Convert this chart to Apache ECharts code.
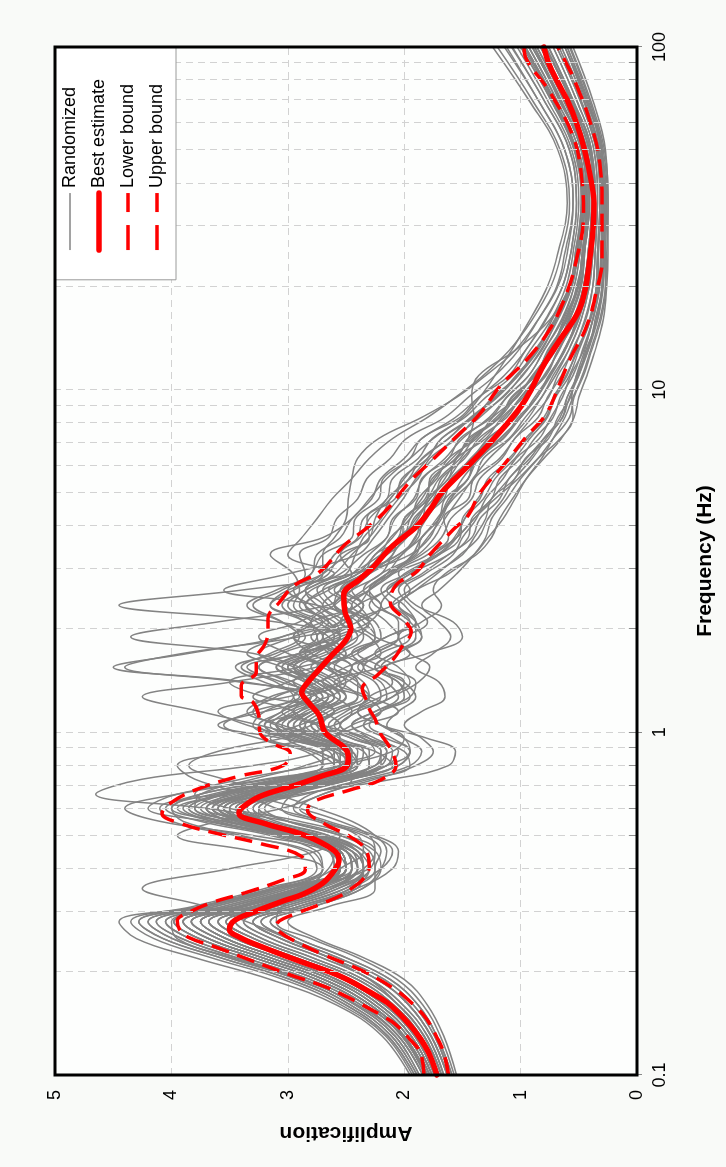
<!DOCTYPE html>
<html><head><meta charset="utf-8">
<script src="https://cdn.jsdelivr.net/npm/echarts@6/dist/echarts.min.js"></script>
<style>
html,body{margin:0;padding:0;width:726px;height:1167px;overflow:hidden;background:#f9faf8;}
#chart{position:absolute;left:0;top:0;width:1167px;height:726px;transform-origin:0 0;transform:translate(0,1167px) rotate(-90deg);}
</style></head><body><div id="chart"></div>
<script>
// Frequency grid (Hz) shared by the randomized curves
const freqGrid = [0.1,0.13,0.16,0.19,0.22,0.25,0.28,0.31,0.35,0.4,0.45,0.5,0.55,0.6,0.66,0.73,0.8,0.88,0.96,1.05,1.15,1.27,1.4,1.55,1.7,1.9,2.1,2.35,2.6,2.9,3.3,3.7,4.2,4.8,5.5,6.3,7.2,8.3,9.5,11,13,16,20,25,35,50,70,100];

const rand01 = [1.95,2.19,2.58,3.15,3.80,4.30,4.45,3.75,3.10, 2.55,2.65,3.30,4.10,4.40,3.95,3.15,2.60,2.80,3.20,2.90,2.60,3.20,3.50,2.90,2.55,2.95,2.80,2.45,2.65,2.40, 2.25,2.10,1.98,1.85,1.74,1.59,1.41,1.21,1.05,0.89,0.75,0.62,0.51,0.47,0.43,0.48,0.66,0.90];
const rand02 = [1.57,1.69,1.84,2.06,2.40,2.80,3.10,3.05,2.75, 2.55,2.35,2.40,2.70,3.10,3.30,3.05,2.55,2.10,2.00,2.20,2.40,2.30,2.10,2.20,2.40,2.15,1.90,2.00,2.15,1.95, 1.75,1.55,1.40,1.25,1.10,0.95,0.80,0.66,0.60,0.51,0.43,0.35,0.30,0.29,0.29,0.31,0.44,0.62];
const rand03 = [1.78,1.97,2.25,2.63,3.15,3.60,3.83,3.30,2.80, 2.50,2.55,2.85,3.40,3.65,3.35,2.85,2.50,2.45,2.70,2.90,2.75,2.50,2.70,3.00,2.70,2.40,2.30,2.60,2.45,2.20, 2.10,2.00,1.88,1.78,1.62,1.50,1.33,1.14,1.00,0.85,0.71,0.58,0.48,0.45,0.41,0.46,0.63,0.86];
const rand04 = [1.68,1.83,2.05,2.30,2.65,3.00,3.35,3.70,4.25, 3.50,2.75,2.55,2.90,3.50,3.80,3.40,2.75,2.25,2.35,2.70,2.95,2.80,2.50,2.35,2.55,2.70,2.40,2.20,2.30,2.15, 2.02,1.85,1.72,1.60,1.50,1.35,1.17,1.00,0.88,0.75,0.63,0.51,0.43,0.40,0.37,0.41,0.57,0.79];
const rand05 = [1.80,2.00,2.29,2.69,3.22,3.68,3.90,3.43,2.88, 2.30,2.25,2.50,3.00,3.70,4.65,4.25,3.30,2.70,2.55,2.75,3.05,2.85,2.55,2.65,2.90,2.55,2.30,2.40,2.60,2.35, 2.20,2.05,2.00,1.82,1.76,1.56,1.43,1.19,1.07,0.88,0.76,0.61,0.51,0.47,0.43,0.48,0.66,0.90];
const rand06 = [1.66,1.80,2.01,2.29,2.71,3.14,3.38,2.98,2.51, 2.35,2.45,2.90,3.45,3.50,2.90,2.10,1.62,1.56,1.80,2.20,2.40,2.20,1.95,2.05,2.25,2.00,1.80,1.95,2.05,1.85, 1.62,1.42,1.35,1.18,1.10,0.92,0.80,0.64,0.60,0.50,0.44,0.34,0.30,0.28,0.28,0.30,0.43,0.60];
const rand07 = [1.84,2.05,2.37,2.81,3.37,3.84,4.05,3.56,2.99, 2.55,2.55,2.80,3.30,3.70,3.50,2.95,2.55,2.55,2.85,3.05,2.90,2.70,3.05,3.35,2.90,2.55,3.10,4.45,3.40,2.45, 2.15,1.98,1.92,1.75,1.68,1.48,1.36,1.12,1.00,0.84,0.72,0.58,0.48,0.45,0.41,0.46,0.63,0.86];
const rand08 = [1.91,2.14,2.50,2.98,3.58,4.07,4.28,3.76,3.14, 2.45,2.50,2.90,3.55,4.00,3.75,3.05,2.60,2.65,3.00,3.20,2.90,2.80,3.40,4.40,3.90,2.90,2.45,2.65,2.75,2.45, 2.30,2.15,2.08,1.92,1.84,1.65,1.50,1.27,1.12,0.93,0.80,0.65,0.54,0.49,0.45,0.50,0.69,0.93];
const rand09 = [1.63,1.77,1.96,2.23,2.64,3.06,3.30,2.91,2.46, 2.30,2.35,2.70,3.20,3.40,3.10,2.55,2.15,2.05,2.25,2.45,2.25,1.95,1.90,2.15,1.80,1.50,1.58,1.90,2.00,1.82, 1.58,1.50,1.38,1.30,1.15,1.04,0.84,0.74,0.64,0.57,0.46,0.38,0.32,0.31,0.30,0.33,0.46,0.65];
const rand10 = [1.76,1.94,2.21,2.58,3.08,3.53,3.75,3.30,2.78, 2.45,2.50,2.80,3.30,3.55,3.25,2.75,2.40,2.45,2.80,3.25,3.75,4.25,3.50,2.75,2.50,2.70,2.55,2.35,2.50,2.30, 2.02,1.91,1.81,1.69,1.57,1.43,1.25,1.07,0.94,0.80,0.67,0.55,0.46,0.42,0.39,0.43,0.60,0.83];
const rand11 = [1.74,1.91,2.17,2.52,3.00,3.45,3.68,3.24,2.72, 2.60,2.65,3.00,3.50,3.70,3.30,2.75,2.40,2.35,2.55,2.75,2.60,2.40,2.40,2.65,2.85,2.60,2.30,2.20,2.35,2.20, 1.90,1.85,1.70,1.65,1.45,1.40,1.15,1.02,0.86,0.76,0.62,0.52,0.43,0.40,0.37,0.41,0.57,0.79];
const rand12 = [1.87,2.08,2.42,2.86,3.44,3.91,4.13,3.63,3.04, 2.50,2.55,2.95,3.45,3.80,3.55,3.00,2.60,2.60,2.90,3.10,2.80,2.55,2.65,2.90,3.30,4.35,3.60,2.65,2.50,2.35, 2.25,2.02,2.00,1.80,1.78,1.55,1.45,1.18,1.08,0.87,0.77,0.60,0.52,0.46,0.44,0.47,0.67,0.88];
const rand13 = [1.55,1.66,1.80,2.00,2.35,2.75,3.00,2.65,2.25, 2.25,2.20,2.35,2.75,3.05,2.95,2.55,2.15,1.95,2.00,2.20,2.30,2.10,1.88,1.78,1.95,2.05,1.85,1.68,1.75,1.65, 1.38,1.25,1.18,1.07,0.95,0.80,0.65,0.54,0.50,0.43,0.36,0.29,0.26,0.25,0.25,0.27,0.38,0.55];
const rand14 = [1.80,2.00,2.29,2.69,3.22,3.68,3.90,3.43,2.88, 2.40,2.50,2.90,3.35,3.50,3.20,2.70,2.40,2.50,2.90,3.35,3.60,3.00,2.55,2.45,2.65,2.75,2.50,2.35,2.55,2.35, 2.05,1.88,1.84,1.66,1.60,1.40,1.28,1.04,0.96,0.78,0.68,0.53,0.46,0.42,0.39,0.43,0.60,0.83];
const rand15 = [1.82,2.02,2.33,2.75,3.29,3.76,3.98,3.50,2.93, 2.50,2.60,3.00,3.50,3.70,3.40,2.85,2.50,2.55,2.85,3.00,2.80,2.65,2.85,3.05,2.80,2.55,2.70,2.95,2.90,2.95, 3.15,2.70,2.45,2.30,2.15,1.95,1.75,1.50,1.35,1.22,1.08,0.92,0.77,0.68,0.60,0.68,0.93,1.24];
const rand16 = [1.76,1.94,2.21,2.58,3.08,3.53,3.75,3.30,2.78, 2.45,2.50,2.85,3.35,3.60,3.30,2.80,2.45,2.45,2.70,2.95,2.80,2.60,2.75,2.90,2.65,2.45,2.55,2.75,2.85,2.70, 2.70,2.60,2.50,2.48,2.45,2.40,2.22,1.85,1.55,1.30,1.05,0.85,0.68,0.60,0.55,0.62,0.85,1.12];
const rand17 = [1.72,1.88,2.13,2.46,2.93,3.37,3.60,3.17,2.67, 2.40,2.45,2.80,3.25,3.45,3.15,2.65,2.30,2.30,2.60,2.80,2.65,2.40,2.55,2.75,2.55,2.35,2.40,2.60,2.55,2.35, 2.15,2.02,1.90,1.78,1.65,1.55,1.45,1.40,1.42,1.36,1.05,0.75,0.58,0.50,0.45,0.52,0.72,0.96];
const rand18 = [1.68,1.83,2.05,2.35,2.79,3.22,3.45,3.04,2.57, 2.35,2.40,2.75,3.25,3.45,3.10,2.55,2.20,2.15,2.40,2.60,2.45,2.20,2.25,2.45,2.25,2.05,2.05,2.20,2.10,1.90, 1.75,1.55,1.40,1.22,1.02,0.85,0.66,0.55,0.56,0.52,0.45,0.38,0.32,0.30,0.29,0.32,0.45,0.62];
const rand19 = [1.61,1.74,1.92,2.17,2.57,2.98,3.23,2.85,2.41, 2.35,2.40,2.72,3.20,3.35,3.00,2.45,2.05,1.95,2.10,2.30,2.20,2.00,2.05,2.25,2.10,1.90,1.90,2.05,1.90,1.62, 1.40,1.28,1.15,1.05,0.95,0.82,0.72,0.62,0.55,0.47,0.40,0.32,0.27,0.26,0.25,0.28,0.40,0.57];
const rand20 = [1.89,2.11,2.46,2.92,3.51,3.99,4.20,3.69,3.09, 2.55,2.60,3.05,3.70,4.20,3.95,3.20,2.70,2.70,3.00,3.30,3.20,2.90,3.35,4.50,3.85,3.05,2.80,3.15,3.00,2.60, 3.00,2.88,2.75,2.62,2.45,2.30,2.10,1.80,1.56,1.32,1.10,0.90,0.74,0.65,0.58,0.66,0.90,1.20];
const rand21 = [1.74,1.91,2.17,2.52,3.00,3.45,3.68,3.24,2.72, 2.55,2.65,3.10,3.65,3.90,3.55,2.95,2.55,2.45,2.65,2.80,2.55,2.30,2.35,2.55,2.80,2.95,2.70,2.40,2.30,2.15, 1.88,1.74,1.65,1.53,1.41,1.27,1.09,0.93,0.82,0.70,0.59,0.48,0.41,0.38,0.36,0.39,0.55,0.76];
const rand22 = [1.82,2.02,2.33,2.75,3.29,3.76,3.98,3.50,2.93, 2.40,2.45,2.75,3.20,3.40,3.15,2.70,2.45,2.55,2.95,3.20,3.05,2.80,3.00,3.25,2.90,2.50,2.45,2.75,3.55,3.00, 2.40,2.26,2.14,2.01,1.90,1.75,1.57,1.35,1.16,0.98,0.83,0.68,0.56,0.51,0.46,0.52,0.71,0.96];
const rand23 = [1.70,1.86,2.09,2.40,2.86,3.29,3.53,3.11,2.62, 2.40,2.50,2.85,3.35,3.55,3.20,2.65,2.25,2.15,2.30,2.45,2.25,2.05,2.15,2.35,2.20,1.95,2.00,2.25,2.30,2.10, 1.72,1.57,1.48,1.37,1.25,1.10,0.94,0.80,0.71,0.61,0.51,0.41,0.35,0.34,0.32,0.35,0.49,0.69];
const rand24 = [1.84,2.05,2.37,2.81,3.37,3.84,4.05,3.56,2.99, 2.50,2.55,2.90,3.40,3.65,3.40,2.90,2.55,2.60,2.90,3.10,2.90,2.65,2.80,3.10,2.85,2.55,2.60,2.90,2.80,2.50, 2.42,2.35,2.20,2.12,1.96,1.85,1.62,1.43,1.21,1.04,0.86,0.73,0.58,0.53,0.48,0.54,0.74,1.00];
const rand25 = [1.59,1.72,1.88,2.12,2.50,2.91,3.15,2.78,2.36, 2.20,2.15,2.25,2.45,2.75,3.10,3.55,3.85,3.60,3.05,2.60,2.45,2.60,2.85,2.70,2.40,2.25,2.35,2.50,2.30,2.10, 1.93,1.85,1.70,1.62,1.45,1.38,1.18,1.00,0.86,0.75,0.63,0.51,0.43,0.40,0.37,0.41,0.57,0.79];
const rand26 = [1.93,2.16,2.54,3.04,3.66,4.15,4.35,3.82,3.20, 2.70,2.80,3.45,4.00,4.10,3.60,2.95,2.50,2.45,2.75,3.10,3.30,3.10,2.85,3.05,3.35,3.05,2.70,2.85,2.95,2.70, 2.50,2.30,2.25,2.15,1.95,1.80,1.68,1.42,1.22,1.03,0.87,0.71,0.58,0.53,0.48,0.54,0.74,1.00];
const rand27 = [1.70,1.86,2.09,2.40,2.86,3.29,3.53,3.11,2.62, 2.35,2.40,2.65,3.10,3.30,3.05,2.60,2.30,2.35,2.60,2.45,2.20,2.35,2.70,2.50,2.20,2.30,2.55,2.40,2.15,2.00, 1.70,1.52,1.50,1.35,1.28,1.08,0.96,0.78,0.72,0.60,0.52,0.40,0.35,0.34,0.32,0.35,0.49,0.69];
const rand28 = [1.78,1.97,2.25,2.63,3.15,3.60,3.83,3.37,2.83, 2.70,3.30,3.95,3.60,3.05,2.70,2.45,2.50,2.75,3.00,2.80,2.60,2.75,2.95,2.70,2.50,2.65,2.80,2.60,2.45,2.30, 2.10,2.05,1.85,1.80,1.62,1.55,1.30,1.16,0.98,0.86,0.70,0.59,0.49,0.45,0.41,0.46,0.63,0.86];
const rand29 = [1.66,1.80,2.01,2.29,2.71,3.14,3.38,2.98,2.51, 2.20,2.10,2.30,2.70,2.95,2.80,2.35,1.95,1.85,2.00,2.15,2.05,1.90,2.00,2.20,2.05,1.85,1.95,2.10,1.95,1.75, 1.50,1.40,1.30,1.25,1.05,0.96,0.76,0.68,0.57,0.52,0.42,0.36,0.30,0.29,0.28,0.31,0.43,0.62];
const rand30 = [1.87,2.08,2.42,2.86,3.44,3.91,4.13,3.63,3.04, 2.60,2.55,2.85,3.40,3.80,3.75,3.30,2.85,2.60,2.70,3.05,3.35,3.15,2.80,2.95,3.25,2.95,2.65,2.80,3.00,2.80, 2.70,2.45,2.42,2.22,2.18,1.95,1.85,1.52,1.36,1.10,0.96,0.78,0.64,0.57,0.52,0.58,0.80,1.07];
const rand31 = [1.72,1.88,2.13,2.46,2.93,3.37,3.60,3.17,2.67, 2.35,2.25,2.30,2.55,2.90,3.35,3.80,3.95,3.40,2.80,2.55,2.70,2.95,2.75,2.45,2.60,2.80,2.55,2.35,2.45,2.30, 2.20,2.12,1.95,1.88,1.72,1.62,1.38,1.24,1.03,0.90,0.74,0.63,0.51,0.47,0.43,0.48,0.66,0.90];
const rand32 = [1.80,2.00,2.29,2.69,3.22,3.68,3.90,3.43,2.88, 2.55,2.60,2.95,3.55,3.85,3.60,3.00,2.55,2.45,2.65,2.90,2.75,2.55,2.70,2.95,2.75,2.60,2.75,3.00,2.85,2.55, 2.35,2.15,2.10,1.90,1.85,1.62,1.52,1.25,1.12,0.93,0.80,0.64,0.54,0.49,0.45,0.50,0.69,0.93];
const rand33 = [1.61,1.74,1.92,2.17,2.57,2.98,3.23,2.85,2.41, 2.10,2.05,2.25,2.65,2.90,2.70,2.25,1.90,1.75,1.85,2.00,1.85,1.65,1.70,1.90,1.75,1.60,1.70,1.85,1.70,1.55, 1.40,1.30,1.25,1.12,1.00,0.85,0.72,0.58,0.54,0.46,0.39,0.31,0.27,0.27,0.26,0.29,0.41,0.58];
const rand34 = [1.91,2.14,2.50,2.98,3.58,4.07,4.28,3.76,3.14, 2.75,2.85,3.40,3.90,4.00,3.65,3.05,2.70,2.85,3.25,3.55,3.30,2.95,3.10,3.40,3.15,2.90,3.05,3.30,3.05,2.85, 2.90,2.65,2.58,2.40,2.32,2.12,1.98,1.65,1.45,1.22,1.02,0.85,0.69,0.62,0.55,0.62,0.85,1.14];
const rand35 = [1.76,1.94,2.21,2.58,3.08,3.53,3.75,3.30,2.78, 2.50,2.55,2.85,3.35,3.60,3.35,2.80,2.45,2.40,2.65,2.85,2.70,2.50,2.60,2.80,2.60,2.40,2.50,2.70,2.55,2.35, 1.95,1.78,1.70,1.58,1.40,1.32,1.10,0.96,0.82,0.72,0.59,0.48,0.41,0.38,0.36,0.39,0.55,0.76];
const rand36 = [1.68,1.83,2.05,2.35,2.79,3.22,3.45,3.04,2.57, 2.30,2.35,2.65,3.15,3.40,3.15,2.60,2.25,2.20,2.45,2.70,2.60,2.35,2.40,2.60,2.45,2.25,2.30,2.50,2.35,2.15, 1.85,1.68,1.60,1.42,1.35,1.16,1.05,0.85,0.77,0.65,0.56,0.44,0.38,0.36,0.34,0.37,0.52,0.72];
const rand37 = [1.82,2.02,2.33,2.75,3.29,3.76,3.98,3.50,2.93, 2.60,2.65,3.05,3.60,3.85,3.55,2.95,2.55,2.55,2.85,3.10,2.95,2.70,2.85,3.10,2.90,2.70,2.85,3.05,2.85,2.60, 2.45,2.30,2.18,2.05,1.88,1.78,1.55,1.38,1.15,0.99,0.82,0.69,0.56,0.51,0.46,0.52,0.71,0.96];
const rand38 = [1.63,1.77,1.96,2.23,2.64,3.06,3.30,2.91,2.46, 2.25,2.30,2.55,3.00,3.25,3.00,2.50,2.15,2.10,2.35,2.55,2.40,2.15,2.20,2.40,2.25,2.05,2.15,2.30,2.15,1.95, 1.62,1.45,1.42,1.25,1.18,1.00,0.88,0.72,0.66,0.55,0.47,0.38,0.33,0.31,0.30,0.33,0.46,0.65];
const rand39 = [1.74,1.91,2.17,2.52,3.00,3.45,3.68,3.24,2.72, 2.45,2.50,2.80,3.30,3.55,3.30,2.75,2.40,2.45,2.75,3.00,2.85,2.60,2.75,3.00,2.80,2.55,2.65,2.85,2.65,2.40, 2.05,1.90,1.85,1.68,1.60,1.42,1.28,1.05,0.96,0.79,0.68,0.54,0.46,0.42,0.39,0.43,0.60,0.83];
const rand40 = [1.78,1.97,2.25,2.63,3.15,3.60,3.83,3.37,2.83, 2.50,2.55,2.90,3.40,3.65,3.40,2.85,2.50,2.50,2.75,2.95,2.80,2.60,2.75,2.95,2.75,2.55,2.65,2.85,2.70,2.45, 2.55,2.40,2.35,2.15,2.10,1.88,1.76,1.48,1.30,1.07,0.92,0.74,0.61,0.55,0.50,0.56,0.77,1.03];
const rand41 = [1.72,1.88,2.13,2.46,2.93,3.37,3.60,3.17,2.67, 2.30,2.40,2.75,3.20,3.30,2.95,2.45,2.10,2.25,2.60,2.35,2.05,2.30,2.60,2.20,1.95,2.25,2.40,2.10,1.95,2.05, 1.80,1.62,1.66,1.45,1.40,1.18,1.05,0.90,0.76,0.68,0.55,0.45,0.38,0.36,0.34,0.37,0.52,0.72];
const rand42 = [1.80,2.00,2.29,2.69,3.22,3.68,3.90,3.43,2.88, 2.65,2.60,3.00,3.65,3.95,3.50,2.85,2.55,2.75,3.15,2.85,2.95,3.30,3.00,2.70,3.00,3.25,2.90,2.70,2.85,2.65, 2.55,2.30,2.32,2.08,2.02,1.80,1.68,1.40,1.24,1.02,0.88,0.70,0.58,0.52,0.47,0.53,0.72,0.97];
const rand43 = [1.63,1.77,1.96,2.23,2.64,3.06,3.30,2.91,2.46, 2.35,2.45,2.80,3.25,3.25,2.85,2.30,1.95,2.00,2.30,2.55,2.40,2.10,2.00,2.30,2.45,2.15,1.95,2.10,2.20,1.98, 1.70,1.55,1.48,1.32,1.22,1.05,0.92,0.77,0.70,0.58,0.50,0.40,0.34,0.33,0.31,0.34,0.48,0.67];
const rand44 = [1.76,1.94,2.21,2.58,3.08,3.53,3.75,3.30,2.78, 2.55,2.60,2.90,3.40,3.60,3.30,2.75,2.45,2.60,3.05,3.60,3.20,2.65,2.50,2.70,2.90,2.65,2.45,2.60,2.70,2.45, 2.20,2.00,1.95,1.80,1.70,1.52,1.40,1.18,1.04,0.88,0.74,0.61,0.50,0.46,0.42,0.47,0.65,0.88];
const rand45 = [1.70,1.86,2.09,2.40,2.86,3.29,3.53,3.11,2.62, 2.45,2.50,2.80,3.25,3.40,3.05,2.50,2.20,2.20,2.45,2.65,2.50,2.30,2.45,2.65,2.45,2.20,2.25,2.45,2.30,2.12, 1.92,1.80,1.68,1.60,1.45,1.36,1.15,1.00,0.86,0.74,0.62,0.50,0.42,0.39,0.37,0.40,0.56,0.78];
const rand46 = [1.84,2.05,2.40,2.88,3.48,3.95,4.00,3.40,2.85, 2.50,2.55,2.95,3.50,3.75,3.45,2.85,2.45,2.50,2.85,3.15,3.00,2.75,2.95,3.25,3.05,2.75,2.85,3.15,2.95,2.70, 2.60,2.38,2.30,2.12,2.00,1.84,1.62,1.42,1.20,1.02,0.85,0.70,0.57,0.52,0.47,0.53,0.73,0.98];
const rand47 = [1.59,1.72,1.88,2.12,2.50,2.91,3.15,2.78,2.36, 2.20,2.25,2.55,3.00,3.20,2.95,2.45,2.05,1.95,2.15,2.35,2.20,1.95,2.05,2.25,2.10,1.85,1.90,2.05,1.90,1.72, 1.52,1.36,1.28,1.15,1.05,0.90,0.78,0.64,0.58,0.50,0.42,0.34,0.29,0.28,0.27,0.30,0.42,0.60];
const rand48 = [1.89,2.11,2.46,2.92,3.51,3.99,4.20,3.69,3.09, 2.70,2.75,3.15,3.75,4.05,3.75,3.10,2.70,2.70,3.00,3.25,3.05,2.85,3.20,3.45,3.10,2.85,3.05,3.35,3.10,2.80, 2.75,2.55,2.45,2.28,2.20,2.00,1.85,1.56,1.36,1.14,0.96,0.79,0.64,0.57,0.52,0.58,0.80,1.08];
const randomizedCurves = [rand01,rand02,rand03,rand04,rand05,rand06,rand07,rand08,rand09,rand10,rand11,rand12,rand13,rand14,rand15,rand16,rand17,rand18,rand19,rand20,rand21,rand22,rand23,rand24,rand25,rand26,rand27,rand28,rand29,rand30,rand31,rand32,rand33,rand34,rand35,rand36,rand37,rand38,rand39,rand40,rand41,rand42,rand43,rand44,rand45,rand46,rand47,rand48];

// [frequency (Hz), amplification]
const bestEstimate = [[0.1,1.72],[0.116,1.79],[0.129,1.87],[0.141,1.96],[0.152,2.05],[0.163,2.15],[0.175,2.30],[0.19,2.49],[0.2,2.64],[0.215,2.90],[0.235,3.20],[0.252,3.41],[0.266,3.50],[0.282,3.46],[0.298,3.30],[0.322,3.04],[0.337,2.87],[0.363,2.70],[0.4,2.59],[0.425,2.56],[0.454,2.61],[0.5,2.85],[0.542,3.20],[0.58,3.42],[0.6,3.40],[0.65,3.24],[0.7,2.94],[0.743,2.72],[0.8,2.49],[0.85,2.48],[0.9,2.51],[1.0,2.68],[1.12,2.73],[1.22,2.82],[1.31,2.88],[1.37,2.85],[1.5,2.75],[1.68,2.62],[1.84,2.51],[2.01,2.46],[2.25,2.51],[2.52,2.52],[2.8,2.38],[3.0,2.28],[3.5,2.10],[4.0,1.89],[4.5,1.77],[5.0,1.68],[6.0,1.45],[7.0,1.26],[8.0,1.11],[9.0,0.99],[10,0.91],[12,0.79],[14,0.66],[17,0.50],[20,0.44],[25,0.40],[30,0.375],[35,0.37],[40,0.39],[50,0.45],[60,0.52],[70,0.60],[80,0.69],[90,0.76],[100,0.80]];
const lowerBound = [[0.1,1.62],[0.116,1.66],[0.129,1.72],[0.146,1.81],[0.159,1.91],[0.175,2.05],[0.2,2.34],[0.225,2.70],[0.245,2.93],[0.26,3.06],[0.272,3.10],[0.282,3.07],[0.295,2.94],[0.315,2.72],[0.337,2.52],[0.347,2.47],[0.371,2.36],[0.406,2.30],[0.454,2.33],[0.495,2.46],[0.542,2.69],[0.593,2.83],[0.628,2.78],[0.68,2.46],[0.727,2.20],[0.8,2.07],[0.9,2.12],[1.0,2.21],[1.094,2.25],[1.17,2.30],[1.25,2.33],[1.34,2.36],[1.47,2.23],[1.64,2.09],[1.80,2.01],[1.96,1.94],[2.15,2.01],[2.40,2.12],[2.69,2.07],[2.95,1.89],[3.3,1.78],[3.9,1.58],[4.3,1.45],[5.0,1.35],[6.0,1.15],[7.3,0.95],[8.5,0.78],[10.5,0.66],[12.2,0.58],[15.4,0.43],[19.3,0.35],[24,0.30],[33,0.30],[46,0.32],[60,0.40],[79,0.53],[90,0.61],[100,0.68]];
const upperBound = [[0.1,1.83],[0.116,1.86],[0.127,1.95],[0.141,2.08],[0.149,2.19],[0.161,2.37],[0.169,2.49],[0.181,2.68],[0.196,2.98],[0.215,3.30],[0.235,3.60],[0.252,3.85],[0.266,3.93],[0.282,3.95],[0.298,3.85],[0.318,3.66],[0.34,3.37],[0.371,3.04],[0.398,2.85],[0.434,2.88],[0.474,3.24],[0.505,3.59],[0.542,3.92],[0.58,4.08],[0.621,4.01],[0.68,3.79],[0.743,3.43],[0.8,3.04],[0.87,2.98],[0.931,3.14],[1.0,3.24],[1.12,3.25],[1.224,3.30],[1.28,3.40],[1.37,3.40],[1.50,3.27],[1.64,3.27],[1.80,3.20],[1.96,3.17],[2.15,3.17],[2.40,3.07],[2.69,2.94],[2.95,2.72],[3.5,2.52],[3.95,2.32],[4.5,2.14],[5.4,1.95],[6.0,1.81],[7.3,1.55],[8.5,1.35],[10.3,1.17],[12.2,0.95],[15,0.75],[19.3,0.60],[24,0.52],[32,0.46],[43,0.48],[55,0.55],[74,0.75],[92,0.95],[100,0.97]];

const ampTicks = [0,1,2,3,4,5];
const freqTickLabels = ['0.1','1','10','100'];
const minorGridFreqs = [0.2,0.3,0.4,0.5,0.6,0.7,0.8,0.9,1,2,3,4,5,6,7,8,9,10,20,30,40,50,60,70,80,90];

randomizedCurves.forEach((c,i) => { if (c.length !== freqGrid.length) throw new Error('curve ' + (i+1) + ' has ' + c.length + ' values'); });

const FONT = '"Liberation Sans", Arial, sans-serif';
const chart = echarts.init(document.getElementById('chart'), null, {width:1167, height:726, renderer:'canvas'});
const GL = 92, GT = 55, GR = 47, GB = 89;

const series = [];
series.push({
  type:'line', name:'_grid', data:[], silent:true, z:1, symbol:'none',
  markLine:{silent:true, symbol:['none','none'], label:{show:false}, animation:false,
    lineStyle:{color:'#d2d2d2', type:[7,5], width:1},
    data: minorGridFreqs.map(f => ({xAxis:f}))}
});
series.push({
  type:'line', name:'_ticks', data:[], silent:true, z:1, symbol:'none',
  markLine:{silent:true, symbol:['none','none'], label:{show:false}, animation:false,
    lineStyle:{color:'#8c8c8c', type:'solid', width:1},
    data: minorGridFreqs.map(f => [{coord:[f, ampTicks[0]]},{coord:[f, ampTicks[0]+0.07]}])}
});
randomizedCurves.forEach(c => {
  series.push({type:'line', name:'Randomized', data: freqGrid.map((f,i)=>[f,c[i]]),
    smooth:0.4, symbol:'none', z:2, lineStyle:{color:'#838383', width:1.5}, itemStyle:{color:'#838383'}});
});
series.push({type:'line', name:'Lower bound', data:lowerBound, smooth:0.4, symbol:'none', z:3,
  lineStyle:{color:'#ff0000', width:3.5, type:[18,9]}, itemStyle:{color:'#ff0000'}});
series.push({type:'line', name:'Upper bound', data:upperBound, smooth:0.4, symbol:'none', z:3,
  lineStyle:{color:'#ff0000', width:3.5, type:[18,9]}, itemStyle:{color:'#ff0000'}});
series.push({type:'line', name:'Best estimate', data:bestEstimate, smooth:0.4, symbol:'none', z:4,
  lineStyle:{color:'#ff0000', width:5.5, cap:'round'}, itemStyle:{color:'#ff0000'}});

chart.setOption({
  animation:false,
  backgroundColor:'#f9faf8',
  grid:{left:GL, right:GR, top:GT, bottom:GB, show:true, borderWidth:0, backgroundColor:'#fdfefd'},
  graphic:[{type:'rect', z:100, silent:true,
    shape:{x:GL, y:GT, width:1167-GL-GR, height:726-GT-GB},
    style:{fill:null, stroke:'#000', lineWidth:3}}],
  legend:{
    data:[
      {name:'Randomized', lineStyle:{width:1.5}},
      {name:'Best estimate', lineStyle:{width:5.5, cap:'round'}},
      {name:'Lower bound', lineStyle:{width:3.5, type:[25,13]}},
      {name:'Upper bound', lineStyle:{width:3.5, type:[25,13]}}
    ],
    orient:'vertical', right:GR, top:GT,
    itemWidth:57, itemHeight:16, itemGap:11,
    padding:[6,32,10,27],
    itemStyle:{opacity:0},
    backgroundColor:'#ffffff', borderColor:'#9a9a9a', borderWidth:1, borderRadius:0,
    textStyle:{fontSize:18, color:'#000', fontFamily:FONT},
    selectedMode:false, z:50
  },
  xAxis:{
    type:'log', logBase:10, min:0.1, max:100,
    name:'Frequency (Hz)', nameLocation:'middle', nameGap:58,
    nameTextStyle:{fontSize:21, fontWeight:'bold', color:'#000', fontFamily:FONT},
    axisLine:{show:false},
    axisTick:{show:true, length:5, lineStyle:{color:'#888'}},
    axisLabel:{fontSize:18, color:'#000', margin:14, fontFamily:FONT,
      formatter: v => freqTickLabels[Math.round(Math.log10(v))+1] ?? ''},
    splitLine:{show:false}
  },
  yAxis:{
    type:'value', min:ampTicks[0], max:ampTicks[ampTicks.length-1], interval:1,
    name:'Amplification', nameLocation:'middle', nameGap:47, nameRotate:90,
    nameTextStyle:{fontSize:21, fontWeight:'bold', color:'#000', fontFamily:FONT},
    axisLine:{show:false}, axisTick:{show:false},
    axisLabel:{fontSize:18, color:'#000', margin:15, fontFamily:FONT},
    splitLine:{show:true, showMinLine:false, showMaxLine:false, lineStyle:{color:'#d2d2d2', type:[7,5]}}
  },
  series
});
</script></body></html>
